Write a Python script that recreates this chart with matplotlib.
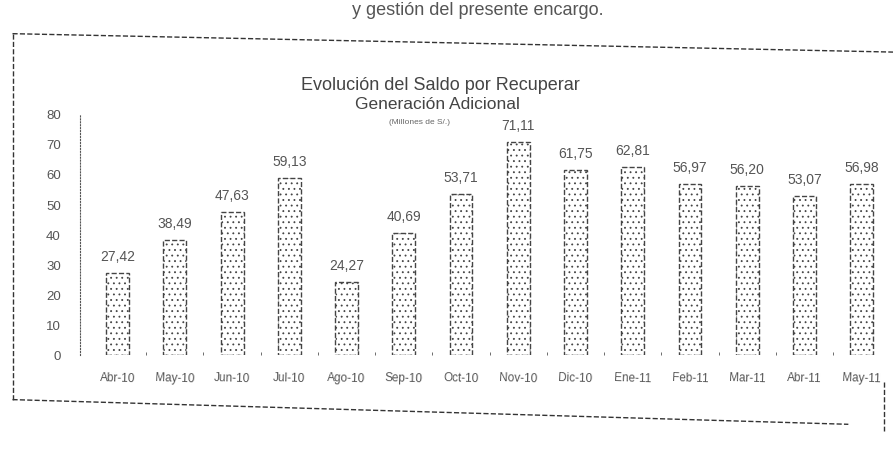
import matplotlib.pyplot as plt
from matplotlib.lines import Line2D

meses = ['Abr-10', 'May-10', 'Jun-10', 'Jul-10', 'Ago-10', 'Sep-10', 'Oct-10',
         'Nov-10', 'Dic-10', 'Ene-11', 'Feb-11', 'Mar-11', 'Abr-11', 'May-11']
saldo = [27.42, 38.49, 47.63, 59.13, 24.27, 40.69, 53.71,
         71.11, 61.75, 62.81, 56.97, 56.20, 53.07, 56.98]
y_ticks = [0, 10, 20, 30, 40, 50, 60, 70, 80]

plt.rcParams['font.family'] = ['Liberation Sans', 'DejaVu Sans']
plt.rcParams['hatch.linewidth'] = 0.6
plt.rcParams['hatch.color'] = '#666666'

fig = plt.figure(figsize=(8.93, 4.49), dpi=100)
ax = fig.add_axes([0.09, 0.209, 0.907, 0.535])

x = list(range(len(meses)))
ax.bar(x, saldo, width=0.4, color='white', hatch='...',
       edgecolor='#444444', linestyle='--', linewidth=1.0)

for xi, v in zip(x, saldo):
    ax.text(xi, v + 3, f'{v:.2f}'.replace('.', ','), ha='center', va='bottom',
            fontsize=10, color='#555555')

ax.set_xlim(-0.65, 13.5)
ax.set_ylim(0, 80)
ax.set_yticks(y_ticks)
ax.set_yticklabels([str(t) for t in y_ticks], fontsize=9.5, color='#555555')
ax.tick_params(axis='y', length=0, pad=14)
ax.set_xticks(x)
ax.set_xticklabels(meses, fontsize=8.5, color='#555555', rotation=-2)
ax.tick_params(axis='x', length=0, pad=12)
# small marks between bars on the baseline
ax.set_xticks([i + 0.5 for i in range(len(meses) - 1)], minor=True)
ax.tick_params(axis='x', which='minor', length=2, color='#555555', direction='in')

for s in ['top', 'right', 'bottom']:
    ax.spines[s].set_visible(False)
ax.spines['left'].set_linestyle(':')
ax.spines['left'].set_color('#555555')

# titles
fig.text(0.493, 0.8, 'Evolución del Saldo por Recuperar', ha='center',
         fontsize=13, color='#444444')
fig.text(0.49, 0.758, 'Generación Adicional', ha='center',
         fontsize=12.5, color='#444444')
fig.text(0.47, 0.724, '(Millones de S/.)', ha='center',
         fontsize=6, color='#666666')

# scanned page text at the top
fig.text(0.535, 0.995, 'y gestión del presente encargo.', ha='center',
         va='top', fontsize=13, color='#555555')

# dashed frame of the scanned page
frame = dict(color='#333333', linestyle='--', linewidth=1.0, transform=fig.transFigure)
fig.add_artist(Line2D([0.014, 1.0], [0.925, 0.884], **frame))
fig.add_artist(Line2D([0.014, 0.014], [0.925, 0.11], **frame))
fig.add_artist(Line2D([0.014, 0.95], [0.11, 0.055], **frame))
fig.add_artist(Line2D([0.99, 0.99], [0.15, 0.04], **frame))

fig.savefig('out.png', dpi=100)
